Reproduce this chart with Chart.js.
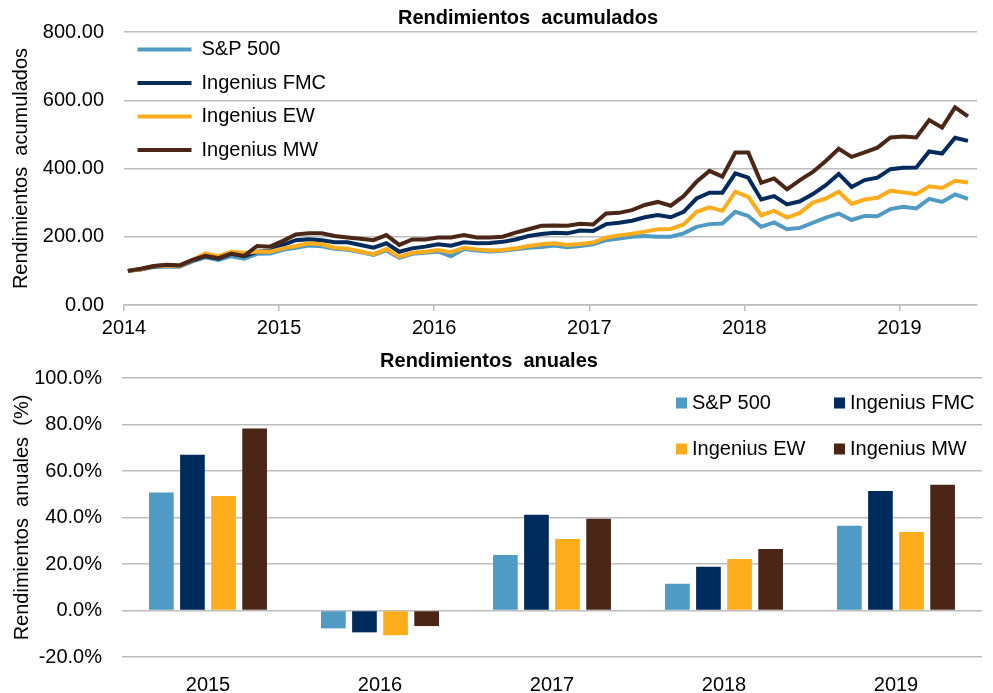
<!DOCTYPE html>
<html>
<head>
<meta charset="utf-8">
<script src="https://cdn.jsdelivr.net/npm/chart.js@4.4.1/dist/chart.umd.min.js"></script>
<style>
  html, body { margin: 0; padding: 0; background: #fff; overflow: hidden; }
  #wrap { position: relative; width: 993px; height: 693px; }
  #topChart { position: absolute; left: 0; top: 0; }
  #barChart { position: absolute; left: 0; top: 343px; }
</style>
</head>
<body>
<div id="wrap">
  <canvas id="topChart" width="993" height="343"></canvas>
  <canvas id="barChart" width="993" height="350"></canvas>
</div>
<script>
'use strict';

// series names and colours
let seriesNames = ['S&P 500', 'Ingenius FMC', 'Ingenius EW', 'Ingenius MW'];
let seriesColors = ['#509BC4', '#002B5C', '#FDAC1C', '#4B2616'];

// monthly cumulative returns, Jan 2014 - Jun 2019
let startYear = 2014;
let sp500Cum = [100,104,111,113,112,128,140,132,143,136,150,151,162,168,174,172,165,162,155,147,
  160,138,150,153,157,143,164,160,157,159,163,168,170,174,169,173,178,190,195,200,
  202,200,200,210,229,237,239,273,261,229,242,222,226,241,256,268,249,261,260,281,
  288,283,311,302,324,311];
let fmcCum = [100,105,113,117,115,131,143,136,150,143,156,158,176,190,193,190,184,184,176,168,
  181,156,166,171,178,174,184,181,182,185,192,202,208,212,210,218,217,237,241,247,
  257,264,257,273,312,329,329,386,373,309,319,295,304,325,351,384,346,366,373,398,
  402,403,450,444,490,481];
let ewCum = [100,105,114,116,114,132,151,143,156,153,156,156,166,173,181,178,168,165,157,149,
  164,141,153,156,161,155,168,163,160,161,166,173,178,181,176,179,183,198,204,209,
  215,222,223,236,273,286,276,332,317,263,276,256,270,300,312,332,296,309,314,335,
  330,325,348,343,364,359];
let mwCum = [100,106,114,118,116,132,144,137,151,144,173,171,188,207,210,210,202,198,194,190,
  205,176,192,192,198,198,205,198,198,200,212,222,232,233,232,238,236,268,270,278,
  293,302,291,319,361,393,376,447,447,358,371,339,366,390,422,458,434,447,461,491,
  494,491,542,520,579,553];

// annual returns (%)
let years = ['2015', '2016', '2017', '2018', '2019'];
let sp500Annual = [50.8, -7.7, 23.9, 11.5, 36.4];
let fmcAnnual = [67.0, -9.4, 41.2, 18.8, 51.4];
let ewAnnual = [49.2, -10.6, 30.8, 22.1, 33.8];
let mwAnnual = [78.3, -6.7, 39.5, 26.4, 54.1];

let gridGray = '#BDBDBD';
let fontFamily = '"Liberation Sans", Arial, sans-serif';

Chart.defaults.font.family = fontFamily;
Chart.defaults.font.size = 20;
Chart.defaults.color = '#000';

// draws a bold title centred on a given x
const panelTitle = {
  id: 'panelTitle',
  afterDraw(chart, args, opts) {
    let ctx = chart.ctx;
    ctx.save();
    ctx.font = 'bold 20px ' + fontFamily;
    ctx.fillStyle = '#000';
    ctx.textAlign = 'center';
    ctx.textBaseline = 'middle';
    ctx.fillText(opts.text, opts.x, opts.y);
    ctx.restore();
  }
};

// 2x2 legend with small squares, inside the plot area
const boxLegend = {
  id: 'boxLegend',
  afterDraw(chart, args, opts) {
    let ctx = chart.ctx;
    let area = chart.chartArea;
    ctx.save();
    ctx.font = '20px ' + fontFamily;
    ctx.textBaseline = 'middle';
    ctx.textAlign = 'left';
    chart.data.datasets.forEach((ds, i) => {
      let col = i % 2;
      let row = Math.floor(i / 2);
      let x = area.right - opts.colOffsets[col];
      let y = area.top + opts.firstRow + row * opts.rowGap;
      ctx.fillStyle = ds.backgroundColor;
      ctx.fillRect(x, y - 5.5, 11, 11);
      ctx.fillStyle = '#000';
      ctx.fillText(ds.label, x + 16, y);
    });
    ctx.restore();
  }
};

function toPoints(values) {
  let points = [];
  for (let i = 0; i < values.length; i++) {
    points.push({ x: startYear + (i + 0.3) / 12, y: values[i] });
  }
  return points;
}

function renderCumulative() {
  let cumSeries = [sp500Cum, fmcCum, ewCum, mwCum];
  let datasets = [];
  for (let i = 0; i < cumSeries.length; i++) {
    datasets.push({
      label: seriesNames[i],
      data: toPoints(cumSeries[i]),
      borderColor: seriesColors[i],
      backgroundColor: seriesColors[i],
      borderWidth: 4,
      pointRadius: 0,
      tension: 0,
      order: cumSeries.length - i
    });
  }
  let ctx = document.getElementById('topChart').getContext('2d');
  new Chart(ctx, {
    type: 'line',
    data: { datasets: datasets },
    plugins: [panelTitle],
    options: {
      responsive: false,
      animation: false,
      layout: { padding: { top: 31, right: 16, bottom: 5, left: 0 } },
      plugins: {
        tooltip: { enabled: false },
        panelTitle: { text: 'Rendimientos  acumulados', x: 528, y: 18 },
        legend: {
          position: 'chartArea',
          align: 'start',
          title: { display: true, text: ' ', font: { size: 10, lineHeight: 1 }, padding: { top: 0, bottom: 16 } },
          labels: {
            usePointStyle: true,
            pointStyle: 'line',
            pointStyleWidth: 54,
            padding: 13.5,
            font: { size: 20 },
            sort: (a, b) => a.datasetIndex - b.datasetIndex
          }
        }
      },
      scales: {
        x: {
          type: 'linear',
          min: 2014,
          max: 2019.5,
          afterFit: (scale) => { scale.height = 33; },
          grid: { display: true, drawOnChartArea: false, drawTicks: true, tickLength: 6, color: gridGray, lineWidth: 1.5 },
          border: { display: true, color: gridGray, width: 1.5 },
          ticks: {
            stepSize: 1,
            includeBounds: false,
            autoSkip: false,
            maxRotation: 0,
            padding: 7,
            font: { size: 20, lineHeight: 1 },
            callback: (v) => String(v)
          }
        },
        y: {
          min: 0,
          max: 800,
          afterFit: (scale) => { scale.width = 124; },
          grid: { color: gridGray, lineWidth: 1.5, drawTicks: false },
          border: { display: false },
          ticks: { stepSize: 200, padding: 20, callback: (v) => v.toFixed(2) },
          title: { display: true, text: 'Rendimientos  acumulados', padding: { top: 9, bottom: 0 }, font: { size: 20 } }
        }
      }
    }
  });
}

function renderAnnual() {
  let annualSeries = [sp500Annual, fmcAnnual, ewAnnual, mwAnnual];
  let datasets = [];
  for (let i = 0; i < annualSeries.length; i++) {
    datasets.push({
      label: seriesNames[i],
      data: annualSeries[i],
      backgroundColor: seriesColors[i],
      borderWidth: 0,
      categoryPercentage: 0.723,
      barPercentage: 0.794
    });
  }
  let ctx = document.getElementById('barChart').getContext('2d');
  new Chart(ctx, {
    type: 'bar',
    data: { labels: years, datasets: datasets },
    plugins: [panelTitle, boxLegend],
    options: {
      responsive: false,
      animation: false,
      layout: { padding: { top: 35, right: 11, bottom: 0, left: 0 } },
      plugins: {
        tooltip: { enabled: false },
        legend: { display: false },
        panelTitle: { text: 'Rendimientos  anuales', x: 489, y: 18 },
        boxLegend: { colOffsets: [306, 148], firstRow: 25, rowGap: 46 }
      },
      scales: {
        x: {
          afterFit: (scale) => { scale.height = 36; },
          grid: { display: false, drawTicks: false },
          border: { display: false },
          ticks: { padding: 18, font: { size: 20, lineHeight: 1 } }
        },
        y: {
          min: -20,
          max: 100,
          afterFit: (scale) => { scale.width = 122; },
          grid: { color: gridGray, lineWidth: 1.5, drawTicks: false },
          border: { display: false },
          ticks: { stepSize: 20, padding: 20, callback: (v) => v.toFixed(1) + '%' },
          title: { display: true, text: 'Rendimientos  anuales  (%)', padding: { top: 10, bottom: 0 }, font: { size: 20 } }
        }
      }
    }
  });
}

renderCumulative();
renderAnnual();
</script>
</body>
</html>
